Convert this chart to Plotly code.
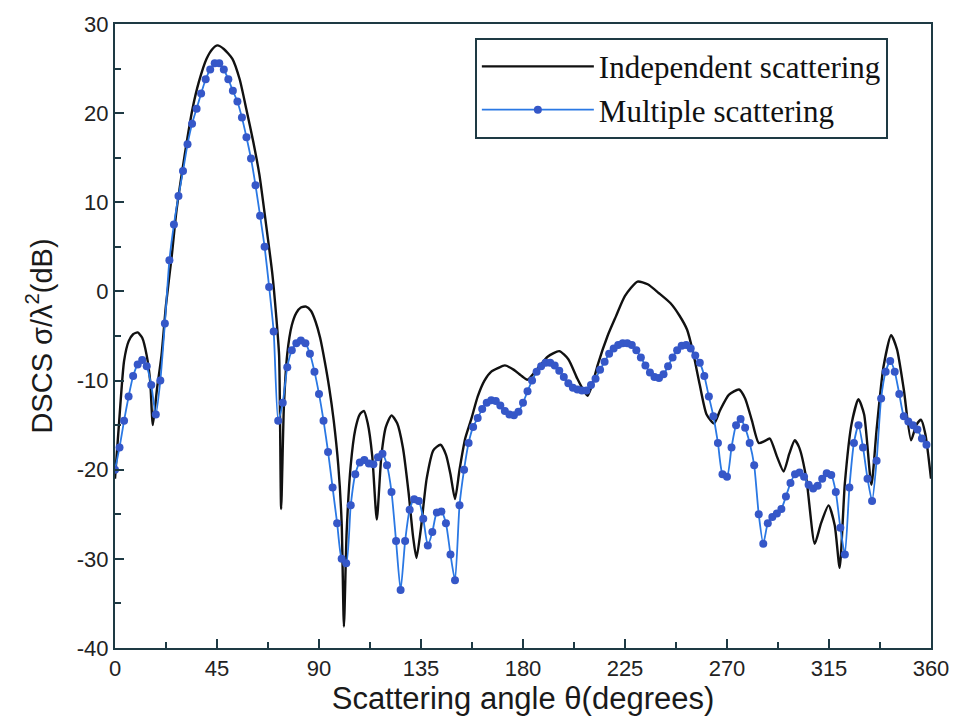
import plotly.graph_objects as go

# Independent scattering (black line) - angle (deg), DSCS (dB)
ind_angle = [0, 2, 4, 6, 8, 10, 12, 14, 15.5, 16.7, 18.5, 20.5, 22.5, 25, 27, 29.4, 32, 34.2, 37, 40.4, 43, 45.2,
             48, 51.8, 55, 57.9, 61, 63.7, 66.5, 69.4, 71.2, 72.4, 73.3, 74.5, 76, 78, 80, 82, 84.3, 86.5, 88.5, 90.5,
             92.5, 94.5, 96.5, 98.5, 100, 101, 102.2, 104, 106, 108, 109.8, 111.5, 113.5, 115.5, 117.5, 119.5, 122,
             124.5, 127, 129.5, 131.5, 133, 135, 137.5, 140.5, 143.6, 146, 148, 150, 152, 154.5, 157.2, 160, 163,
             166, 169, 172, 176, 179, 182, 186, 191, 196, 200, 204, 206.5, 208.5, 210.5, 213, 217.3, 221, 225,
             230.5, 235, 240, 245, 249, 252.4, 255, 258, 261, 264.3, 267, 270.8, 275.3, 278, 281, 284, 286.5,
             288.9, 292, 295, 297.5, 299.9, 302, 305, 308.7, 311.5, 314.8, 317.5, 319.7, 322, 325, 328, 330.5,
             333.7, 336, 339, 342.4, 345, 348, 351.2, 353.5, 355.6, 357.5, 360]
ind_dscs = [-21, -14, -7.8, -5.6, -4.8, -4.6, -5.2, -7.2, -10, -15, -11, -7.2, -1.5, 3.9, 8.8, 13.1, 17.3, 20.5, 23.5,
            26.1, 27.2, 27.6, 27.2, 26.1, 23.8, 20.5, 16.8, 13.1, 7.8, 2, -3, -7.2, -24.4, -13, -7, -3.8, -2.4,
            -1.8, -1.7, -2.2, -3.4, -5.2, -7.8, -10.8, -14.5, -19.5, -26, -37.6, -27, -19.5, -15.5, -13.8, -13.4,
            -14.8, -18.5, -25.6, -18.5, -15.2, -13.9, -14.8, -17.5, -22.5, -27.5, -29.9, -26.5, -21, -17.8, -17.2,
            -18.3, -20.5, -23.3, -20, -16.5, -14.3, -11.8, -10, -9, -8.6, -8.3, -8.8, -9.4, -9.9, -8.8, -7.3,
            -6.7, -7.6, -9.8, -11, -11.7, -10.5, -8.2, -5, -2.8, -0.5, 1.1, 0.8, -0.2, -1.3, -2.7, -4.3, -6.8,
            -10.5, -13.8, -14.8, -13.3, -11.6, -11, -12, -14.5, -17, -16.8, -16.5, -18.5, -20.2, -18.2, -16.7,
            -17.6, -21, -28.3, -26, -24, -26.2, -31, -21.5, -14.8, -12.1, -13.8, -21.7, -15.5, -8.5, -4.9, -6.5,
            -11, -16.7, -15, -14.4, -16, -21]

# Multiple scattering (blue markers), every 2 degrees
mul_angle = list(range(0, 361, 2))
mul_dscs = [-20, -17.5, -14.5, -11.8, -9.5, -8.2, -7.7, -8.4, -10.5, -13.8, -10, -3.6, 3.5, 7.5, 10.7, 13.5,
            16.5, 18.8, 20.5, 22.2, 23.8, 24.9, 25.6, 25.6, 24.9, 23.8, 22.5, 21.3, 19.5, 17.3, 14.9, 11.9,
            8.5, 5, 0.5, -4.5, -14.5, -12.5, -8.5, -6.6, -5.8, -5.5, -5.8, -7, -9, -11.5, -14.5, -18, -22,
            -26, -30, -30.5, -24, -20.5, -19.2, -18.9, -19.3, -19.4, -18.6, -18.2, -19.5, -22.5, -28, -33.5,
            -28, -24.5, -23.3, -23.5, -25.5, -28.5, -27, -24.8, -24.7, -26, -29.5, -32.4, -24, -20, -17,
            -15.2, -14.2, -13.2, -12.5, -12.2, -12.3, -12.8, -13.4, -13.8, -13.9, -13.5, -12.5, -11.2, -10,
            -9, -8.4, -8, -8, -8.3, -8.9, -9.6, -10.3, -10.8, -11, -11.1, -11.1, -10.5, -9.8, -8.8, -7.9,
            -7, -6.4, -6, -5.8, -5.8, -6, -6.6, -7.4, -8.3, -9.1, -9.6, -9.7, -9.3, -8.4, -7.4, -6.6, -6.1,
            -6, -6.4, -7.2, -8, -9.5, -11.8, -14, -17, -20.5, -20.8, -17.5, -15, -14.3, -15.3, -17, -19.5,
            -25, -28.3, -26, -25.3, -24.9, -24.4, -23, -21.5, -20.5, -20.3, -20.8, -21.7, -22.1, -21.8, -21,
            -20.4, -20.6, -22.5, -26.5, -29.5, -22, -17, -15, -17.5, -21, -23.5, -19, -12, -9, -7.8, -9,
            -11.5, -14, -14.6, -15, -15.5, -16.5, -17.2]

x_ticks = [0, 45, 90, 135, 180, 225, 270, 315, 360]
y_ticks = [-40, -30, -20, -10, 0, 10, 20, 30]
y_tick_labels = [str(v) for v in y_ticks]

frame = "#1e3a44"

fig = go.Figure()
fig.add_trace(go.Scatter(
    x=ind_angle, y=ind_dscs, mode="lines", name="Independent scattering",
    line=dict(color="#111111", width=2.4, shape="spline", smoothing=0.6)))
fig.add_trace(go.Scatter(
    x=mul_angle, y=mul_dscs, mode="lines+markers", name="Multiple scattering",
    line=dict(color="#2a78e4", width=1.8, shape="spline", smoothing=0.6),
    marker=dict(color="#3557c8", size=8, line=dict(width=0))))

axis_common = dict(showgrid=False, zeroline=False, showline=True, mirror=True,
                   linecolor=frame, linewidth=2, ticks="inside", tickcolor=frame,
                   tickwidth=2, ticklen=9,
                   tickfont=dict(family="Liberation Sans, Arial", size=22, color="#222222"))

fig.update_xaxes(range=[0, 360], tickvals=x_ticks,
                 minor=dict(dtick=22.5, ticks="inside", ticklen=6, tickcolor=frame, tickwidth=2),
                 title=dict(text="Scattering angle θ(degrees)", standoff=2,
                            font=dict(family="Liberation Sans, Arial", size=31, color="#1a1a1a")),
                 **axis_common)
fig.update_yaxes(range=[-40, 30], tickvals=y_ticks, ticktext=y_tick_labels,
                 minor=dict(dtick=5, ticks="inside", ticklen=6, tickcolor=frame, tickwidth=2),
                 title=dict(text="DSCS σ/λ<sup>2</sup>(dB)", standoff=16,
                            font=dict(family="Liberation Sans, Arial", size=29, color="#1a1a1a")),
                 **axis_common)

fig.update_layout(
    width=961, height=719,
    margin=dict(l=115, r=26, t=18, b=71),
    paper_bgcolor="white", plot_bgcolor="white",
    showlegend=True,
    legend=dict(x=0.441, y=0.978, xanchor="left", yanchor="top",
                bgcolor="white", bordercolor=frame, borderwidth=2,
                font=dict(family="Liberation Serif, Times New Roman", size=31, color="#111111"),
                itemwidth=112, tracegroupgap=2),
)

fig.write_html("out.html")
